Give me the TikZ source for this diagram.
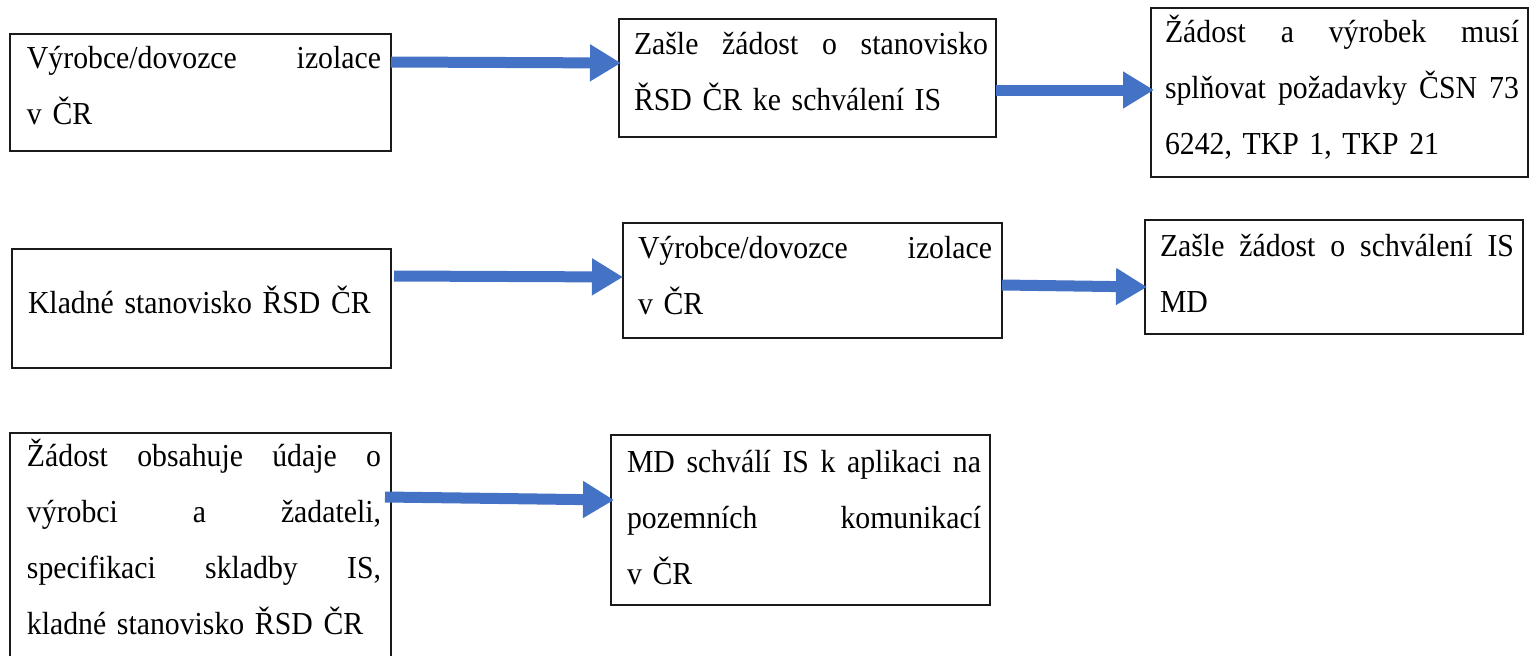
\documentclass[tikz,border=0pt]{standalone}
\usepackage{fontspec}
\setmainfont{Liberation Serif}[FakeStretch=0.93]
\usetikzlibrary{arrows.meta,calc}
\definecolor{flowblue}{HTML}{4472C4}
\definecolor{boxline}{HTML}{1A1A1A}
\newcommand{\jl}[1]{\leavevmode\hbox to 354pt{#1}}
\begin{document}
\begin{tikzpicture}[x=1pt,y=-1pt,
  box/.style={draw=boxline,line width=1.8pt,inner sep=0pt,outer sep=0pt,anchor=north west},
  txt/.style={anchor=base west,inner sep=0pt,outer sep=0pt,text width=354pt,align=left,
              font=\fontsize{32}{56}\selectfont},
  flow/.style={draw=flowblue,line width=11pt,-{Triangle[length=31pt,width=35pt]}}]
\path[use as bounding box] (0,0) rectangle (1529,656);
\clip (0,0) rectangle (1529,656);
% boxes
\node[box,minimum width=381pt,minimum height=117pt] (A) at (10,34) {};
\node[box,minimum width=377pt,minimum height=118pt] (B) at (619,19) {};
\node[box,minimum width=377pt,minimum height=169pt] (C) at (1151,8) {};
\node[box,minimum width=379pt,minimum height=119pt] (D) at (12,249) {};
\node[box,minimum width=379pt,minimum height=115pt] (E) at (623,223) {};
\node[box,minimum width=378pt,minimum height=114pt] (F) at (1145,220) {};
\node[box,minimum width=381pt,minimum height=300pt] (G) at (10,433) {};
\node[box,minimum width=379pt,minimum height=170pt] (H) at (611,435) {};
% texts
\node[txt] (At) at ($(A.north west)+(17,34)$) {\jl{Výrobce/dovozce\hfill izolace}\\v ČR};
\node[txt] (Bt) at ($(B.north west)+(15,35)$) {\jl{Zašle\hfill žádost\hfill o\hfill stanovisko}\\ŘSD ČR ke schválení IS};
\node[txt] (Ct) at ($(C.north west)+(14,34)$) {\jl{Žádost\hfill a\hfill výrobek\hfill musí}\\\jl{splňovat\hfill požadavky\hfill ČSN\hfill 73}\\6242, TKP 1, TKP 21};
\node[txt] (Dt) at ($(D.north west)+(16,64)$) {Kladné stanovisko ŘSD ČR};
\node[txt] (Et) at ($(E.north west)+(15,35)$) {\jl{Výrobce/dovozce\hfill izolace}\\v ČR};
\node[txt] (Ft) at ($(F.north west)+(15,36)$) {\jl{Zašle\hfill žádost\hfill o\hfill schválení\hfill IS}\\MD};
\node[txt] (Gt) at ($(G.north west)+(17,33)$) {\jl{Žádost\hfill obsahuje\hfill údaje\hfill o}\\\jl{výrobci\hfill a\hfill žadateli,}\\\jl{specifikaci\hfill skladby\hfill IS,}\\kladné stanovisko ŘSD ČR};
\node[txt] (Ht) at ($(H.north west)+(16,37)$) {\jl{MD\hfill schválí\hfill IS\hfill k\hfill aplikaci\hfill na}\\\jl{pozemních\hfill komunikací}\\v ČR};
% arrows
\draw[flow] ($(A.north east)+(0,28)$) -- ($(B.north west)+(2,44)$);
\draw[flow] ($(B.north east)+(0,71)$) -- ($(C.north west)+(3,82)$);
\draw[flow] ($(D.north east)+(3,27)$) -- ($(E.north west)+(0,54)$);
\draw[flow] ($(E.north east)+(0,62)$) -- ($(F.north west)+(2,67)$);
\draw[flow] ($(G.north east)+(-6,64)$) -- ($(H.north west)+(3,65)$);
\end{tikzpicture}
\end{document}
